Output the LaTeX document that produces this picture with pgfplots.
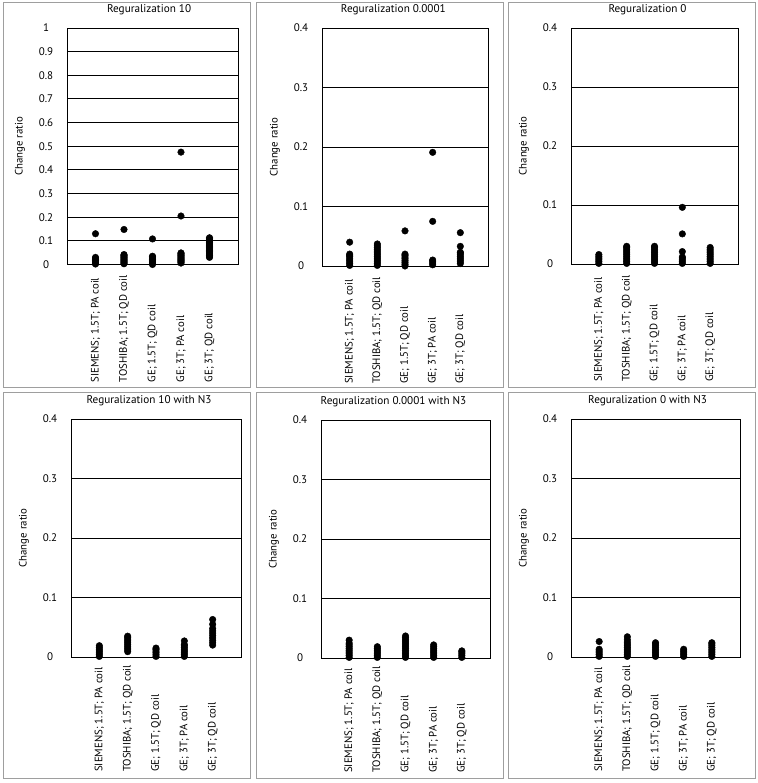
\documentclass[border=0pt]{standalone}
\usepackage{pgfplots}
\pgfplotsset{compat=1.18}
\usepackage{fontspec}
\setmainfont{PT Sans}

\pgfplotsset{
  panel/.style={
    scale only axis,
    anchor=south west,
    clip=false,
    xmin=0, xmax=6, ymin=0,
    xtick={1,2,3,4,5},
    xticklabels={{SIEMENS; 1.5T; PA coil},{TOSHIBA; 1.5T; QD coil},{GE; 1.5T; QD coil},{GE; 3T; PA coil},{GE; 3T; QD coil}},
    xticklabel style={rotate=90, anchor=west, inner sep=0pt, font=\fontsize{10.8bp}{12bp}\selectfont},
    yticklabel style={anchor=center, inner sep=0pt, font=\fontsize{11bp}{12bp}\selectfont},
    yticklabel shift=21bp,
    major tick length=0pt,
    ymajorgrids,
    grid style={black, line width=0.9bp},
    axis line style={black, line width=0.9bp},
    ylabel={Change ratio},
    every axis y label/.style={at={([xshift=-47bp]axis description cs:0,0.5)}, rotate=90, anchor=center, font=\fontsize{10.8bp}{12bp}\selectfont},
    title style={anchor=center, font=\fontsize{11.2bp}{12bp}\selectfont},
  },
  small/.style={ymax=0.4, ytick={0,0.1,0.2,0.3,0.4}, yticklabels={0,0.1,0.2,0.3,0.4}},
  dots/.style={only marks, black, mark=*, mark size=3.3bp, mark options={fill=black, draw=black}},
}

\begin{document}
\begin{tikzpicture}[x=1bp,y=1bp]
\useasboundingbox (0,0) rectangle (758,783);
% panel frames
\foreach \xa/\xb in {3/250, 256/503, 508/755}{
  \draw[black!38, line width=1bp] (\xa,780) rectangle (\xb,395);
  \draw[black!38, line width=1bp] (\xa,390) rectangle (\xb,4);
}

% Panel 1: Reguralization 10
\begin{axis}[panel, at={(67bp,518.5bp)}, width=171bp, height=236.5bp,
  ymax=1, ytick={0,0.1,0.2,0.3,0.4,0.5,0.6,0.7,0.8,0.9,1},
  yticklabels={0,0.1,0.2,0.3,0.4,0.5,0.6,0.7,0.8,0.9,1},
  xticklabel shift=118bp,
  title={Reguralization 10}, title style={at={([yshift=12bp]axis description cs:0.48,1)}}]
\addplot[dots] coordinates {(1,0.002)(1,0.006)(1,0.010)(1,0.014)(1,0.018)(1,0.022)(1,0.026)(1,0.030)(1,0.130)};
\addplot[dots] coordinates {(2,0.003)(2,0.007)(2,0.011)(2,0.015)(2,0.019)(2,0.023)(2,0.027)(2,0.031)(2,0.035)(2,0.039)(2,0.042)(2,0.148)};
\addplot[dots] coordinates {(3,0.000)(3,0.004)(3,0.008)(3,0.012)(3,0.016)(3,0.020)(3,0.024)(3,0.028)(3,0.032)(3,0.035)(3,0.108)};
\addplot[dots] coordinates {(4,0.006)(4,0.010)(4,0.014)(4,0.018)(4,0.022)(4,0.026)(4,0.030)(4,0.034)(4,0.038)(4,0.042)(4,0.046)(4,0.049)(4,0.205)(4,0.475)};
\addplot[dots] coordinates {(5,0.030)(5,0.034)(5,0.038)(5,0.042)(5,0.046)(5,0.050)(5,0.054)(5,0.058)(5,0.062)(5,0.066)(5,0.070)(5,0.074)(5,0.078)(5,0.082)(5,0.086)(5,0.090)(5,0.094)(5,0.098)(5,0.102)(5,0.106)(5,0.110)(5,0.113)};
\end{axis}

% Panel 2: Reguralization 0.0001
\begin{axis}[panel, small, at={(322bp,517bp)}, width=166bp, height=238bp,
  xticklabel shift=118bp,
  title={Reguralization 0.0001}, title style={at={([yshift=12bp]axis description cs:0.43,1)}}]
\addplot[dots] coordinates {(1,0.001)(1,0.004)(1,0.007)(1,0.010)(1,0.013)(1,0.016)(1,0.018)(1,0.020)(1,0.040)};
\addplot[dots] coordinates {(2,0.001)(2,0.004)(2,0.007)(2,0.010)(2,0.013)(2,0.016)(2,0.019)(2,0.022)(2,0.025)(2,0.028)(2,0.031)(2,0.034)(2,0.037)};
\addplot[dots] coordinates {(3,0.000)(3,0.003)(3,0.006)(3,0.009)(3,0.012)(3,0.015)(3,0.018)(3,0.020)(3,0.059)};
\addplot[dots] coordinates {(4,0.002)(4,0.005)(4,0.008)(4,0.010)(4,0.075)(4,0.191)};
\addplot[dots] coordinates {(5,0.004)(5,0.007)(5,0.010)(5,0.013)(5,0.016)(5,0.019)(5,0.022)(5,0.023)(5,0.033)(5,0.056)};
\end{axis}

% Panel 3: Reguralization 0
\begin{axis}[panel, small, at={(571bp,519bp)}, width=167bp, height=236bp,
  xticklabel shift=118bp,
  title={Reguralization 0}, title style={at={([yshift=12bp]axis description cs:0.458,1)}}]
\addplot[dots] coordinates {(1,0.001)(1,0.004)(1,0.007)(1,0.010)(1,0.013)(1,0.016)};
\addplot[dots] coordinates {(2,0.001)(2,0.004)(2,0.007)(2,0.010)(2,0.013)(2,0.016)(2,0.019)(2,0.022)(2,0.025)(2,0.028)(2,0.030)};
\addplot[dots] coordinates {(3,0.001)(3,0.004)(3,0.007)(3,0.010)(3,0.013)(3,0.016)(3,0.019)(3,0.022)(3,0.025)(3,0.028)(3,0.030)};
\addplot[dots] coordinates {(4,0.001)(4,0.004)(4,0.007)(4,0.010)(4,0.012)(4,0.021)(4,0.051)(4,0.096)};
\addplot[dots] coordinates {(5,0.001)(5,0.004)(5,0.007)(5,0.010)(5,0.013)(5,0.016)(5,0.019)(5,0.022)(5,0.025)(5,0.028)};
\end{axis}

% Panel 4: Reguralization 10 with N3
\begin{axis}[panel, small, at={(71bp,126bp)}, width=170bp, height=238bp,
  xticklabel shift=115bp,
  title={Reguralization 10 with N3}, title style={at={([yshift=12bp]axis description cs:0.459,1)}}]
\addplot[dots] coordinates {(1,0.001)(1,0.004)(1,0.007)(1,0.010)(1,0.013)(1,0.016)(1,0.019)};
\addplot[dots] coordinates {(2,0.009)(2,0.012)(2,0.015)(2,0.018)(2,0.021)(2,0.024)(2,0.027)(2,0.030)(2,0.033)(2,0.035)};
\addplot[dots] coordinates {(3,0.001)(3,0.004)(3,0.007)(3,0.010)(3,0.013)(3,0.015)};
\addplot[dots] coordinates {(4,0.001)(4,0.004)(4,0.007)(4,0.010)(4,0.013)(4,0.016)(4,0.019)(4,0.021)(4,0.027)};
\addplot[dots] coordinates {(5,0.020)(5,0.024)(5,0.028)(5,0.032)(5,0.036)(5,0.040)(5,0.044)(5,0.048)(5,0.055)(5,0.063)};
\end{axis}

% Panel 5: Reguralization 0.0001 with N3
\begin{axis}[panel, small, at={(321bp,125bp)}, width=169bp, height=238bp,
  xticklabel shift=115bp,
  title={Reguralization 0.0001 with N3}, title style={at={([yshift=12bp]axis description cs:0.429,1)}}]
\addplot[dots] coordinates {(1,0.001)(1,0.004)(1,0.007)(1,0.010)(1,0.013)(1,0.016)(1,0.019)(1,0.022)(1,0.025)(1,0.030)};
\addplot[dots] coordinates {(2,0.001)(2,0.004)(2,0.007)(2,0.010)(2,0.013)(2,0.016)(2,0.019)};
\addplot[dots] coordinates {(3,0.001)(3,0.004)(3,0.007)(3,0.010)(3,0.013)(3,0.016)(3,0.019)(3,0.022)(3,0.025)(3,0.028)(3,0.031)(3,0.034)(3,0.037)};
\addplot[dots] coordinates {(4,0.001)(4,0.004)(4,0.007)(4,0.010)(4,0.013)(4,0.016)(4,0.019)(4,0.022)};
\addplot[dots] coordinates {(5,0.001)(5,0.004)(5,0.007)(5,0.010)(5,0.012)};
\end{axis}

% Panel 6: Reguralization 0 with N3
\begin{axis}[panel, small, at={(571bp,126bp)}, width=169bp, height=238bp,
  xticklabel shift=115bp,
  title={Reguralization 0 with N3}, title style={at={([yshift=12bp]axis description cs:0.453,1)}}]
\addplot[dots] coordinates {(1,0.001)(1,0.004)(1,0.007)(1,0.010)(1,0.013)(1,0.026)};
\addplot[dots] coordinates {(2,0.001)(2,0.004)(2,0.007)(2,0.010)(2,0.013)(2,0.016)(2,0.019)(2,0.022)(2,0.025)(2,0.029)(2,0.034)};
\addplot[dots] coordinates {(3,0.001)(3,0.004)(3,0.007)(3,0.010)(3,0.013)(3,0.016)(3,0.019)(3,0.022)(3,0.024)};
\addplot[dots] coordinates {(4,0.001)(4,0.004)(4,0.007)(4,0.010)(4,0.013)};
\addplot[dots] coordinates {(5,0.001)(5,0.004)(5,0.007)(5,0.010)(5,0.013)(5,0.016)(5,0.019)(5,0.022)(5,0.024)};
\end{axis}
\end{tikzpicture}
\end{document}
